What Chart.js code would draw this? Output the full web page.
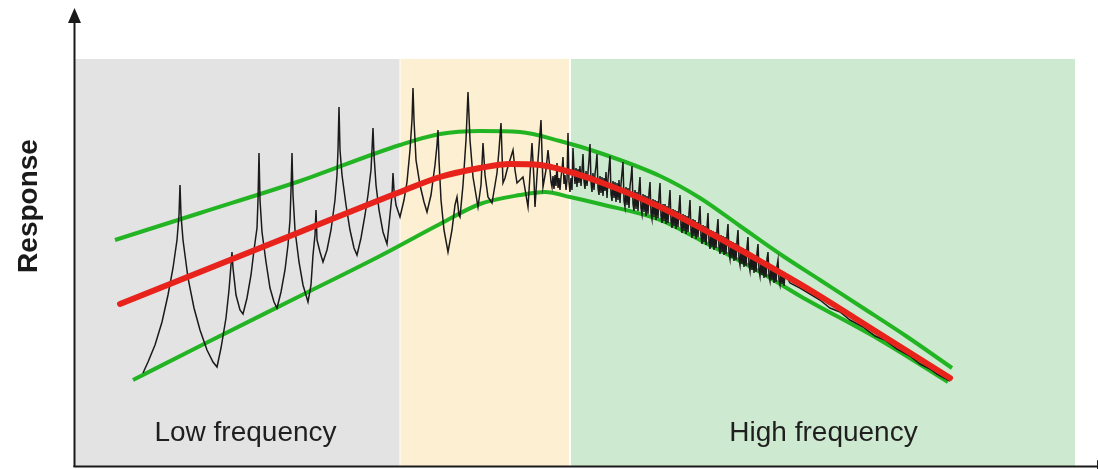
<!DOCTYPE html>
<html>
<head>
<meta charset="utf-8">
<script src="https://cdn.jsdelivr.net/npm/chart.js@4.4.1/dist/chart.umd.min.js"></script>
<style>
  html, body { margin: 0; padding: 0; background: #ffffff; }
  #c { display: block; }
</style>
</head>
<body>
<canvas id="c" width="1098" height="469"></canvas>
<script>
// ---- Data (x: frequency, arbitrary units 0..1000; y: response, arbitrary units 0..407) ----
const bandNames = ["Low frequency", "", "High frequency"];
const bandStart = [0, 325.5, 496];
const bandEnd   = [324.5, 494, 1000];

const meanCurve = [[45,162],[125,194],[225,234],[325,274],[365,289],[405,298],[435,302],[465,301],[495,294],[525,284],[585,259],[635,233],[685,205],[735,176],[805,132],[875,88]];

const upperEnvelope = [[40,226],[125,253],[225,285],[325,321],[365,332],[405,335],[445,334],[485,325],[525,313],[585,290],[625,268],[665,240],[705,212],[745,186],[785,160],[831,130],[877,98]];

const lowerEnvelope = [[58,86],[125,120],[225,170],[305,210],[365,242],[405,262],[445,271],[470,274],[495,269],[525,262],[585,246],[625,226],[685,194],[725,170],[805,126],[873,84]];

const lowBandResponse = [[68,93],[73,104],[80,121],[87,144],[93,171],[98,198],[102,226],[104,251],[105,281],[106,251],[108,226],[113,188],[119,158],[125,136],[132,116],[138,104],[142,99],[146,118],[151,148],[154,176],[156,201],[157,214],[158,198],[161,171],[165,156],[168,152],[172,168],[176,191],[179,216],[182,238],[183,266],[184,313],[185,266],[187,234],[191,204],[195,178],[199,164],[202,158],[206,174],[210,196],[213,221],[215,246],[216,276],[217,313],[218,271],[220,236],[224,204],[228,181],[233,164],[236,181],[238,211],[240,231],[241,256],[242,226],[245,214],[248,204],[252,216],[256,236],[260,266],[262,291],[263,316],[264,359],[265,316],[267,291],[271,261],[275,236],[279,218],[282,211],[286,228],[290,251],[293,271],[296,296],[297,316],[298,338],[299,311],[301,281],[304,256],[308,234],[312,222],[315,251],[317,271],[318,293],[319,276],[321,261],[325,249]];

const midBandResponse = [[329,266],[332,284],[335,316],[337,346],[338,378],[339,346],[341,306],[345,281],[349,264],[352,254],[356,271],[360,301],[362,321],[363,336],[364,306],[366,266],[369,236],[373,214],[377,236],[380,261],[382,269],[384,251],[385,249],[388,281],[391,326],[393,374],[395,326],[398,289],[401,271],[403,259],[406,281],[408,323],[410,291],[413,269],[417,263],[420,281],[422,293],[424,316],[426,343],[428,283],[430,288],[432,296],[435,306],[438,316],[440,296],[442,283],[445,286],[448,289],[451,271],[453,259],[455,291],[457,323],[459,286],[460,259],[463,306],[466,346],[468,279],[471,296],[473,316],[475,296],[476,284],[477,279],[478,290],[479,277],[480,291],[481,280],[482,303],[483,278],[484,288],[485,276],[486,289],[487,296],[488,309],[489,282],[490,291],[491,276],[492,286],[493,333],[494,284],[495,274],[496,288],[497,276]];

const highBandResponse = [[498,318],[499,296],[500,282],[501,298],[502,279],[503,297],[504,283],[505,300],[506,280],[507,296],[508,312],[509,285],[510,277],[511,295],[512,280],[513,294],[514,306],[515,322],[516,284],[517,274],[518,293],[519,276],[520,292],[521,300],[522,312],[523,278],[524,271],[525,290],[526,273],[527,289],[528,270],[529,288],[530,275],[531,294],[532,268],[533,287],[534,298],[535,310],[536,272],[537,265],[538,285],[539,268],[540,284],[541,264],[542,283],[543,266],[544,286],[545,263],[546,282],[547,293],[548,304],[549,265],[550,259],[551,279],[552,261],[553,278],[554,258],[555,280],[556,288],[557,300],[558,262],[559,255],[560,276],[561,257],[562,274],[563,255],[564,277],[565,289],[566,258],[567,252],[568,272],[569,254],[570,271],[571,250],[572,270],[573,252],[574,273],[575,284],[576,253],[577,247],[578,267],[579,249],[580,266],[581,246],[582,265],[583,248],[584,270],[585,283],[586,250],[587,243],[588,262],[589,245],[590,262],[591,242],[592,260],[593,243],[594,263],[595,276],[596,245],[597,238],[598,257],[599,240],[600,256],[601,237],[602,255],[603,239],[604,258],[605,271],[606,240],[607,233],[608,252],[609,235],[610,251],[611,232],[612,250],[613,234],[614,253],[615,266],[616,235],[617,228],[618,247],[619,230],[620,246],[621,227],[622,244],[623,229],[624,248],[625,260],[626,230],[627,222],[628,241],[629,224],[630,240],[631,221],[632,239],[633,253],[634,224],[635,217],[636,236],[637,219],[638,235],[639,216],[640,234],[641,218],[642,236],[643,247],[644,219],[645,212],[646,231],[647,214],[648,230],[649,211],[650,229],[651,212],[652,231],[653,242],[654,213],[655,207],[656,225],[657,208],[658,224],[659,205],[660,223],[661,206],[662,225],[663,236],[664,207],[665,201],[666,219],[667,202],[668,218],[669,199],[670,217],[671,200],[672,219],[673,229],[674,201],[675,195],[676,213],[677,196],[678,212],[679,193],[680,211],[681,194],[682,213],[683,222],[684,196],[685,190],[686,207],[687,191],[688,206],[689,188],[690,205],[691,189],[692,207],[693,214],[694,190],[695,185],[696,201],[697,186],[698,200],[699,183],[700,199],[701,184],[702,200],[703,206],[704,186],[705,181],[706,195],[707,182],[708,194],[709,180],[710,192],[715,183],[725,178],[735,172],[745,166],[755,158],[765,154],[775,146],[788,139],[800,130],[810,126],[822,117],[835,110],[845,102],[855,97],[862,92],[875,85]];

const measuredResponse = lowBandResponse.concat(midBandResponse, highBandResponse);

// ---- helpers ----
const toPts = arr => arr.map(p => ({ x: p[0], y: p[1] }));
const FONT = "'Liberation Sans', Arial, Helvetica, sans-serif";

const decorPlugin = {
  id: 'decor',
  beforeDatasetsDraw(chart) {
    const { ctx, chartArea, scales } = chart;
    const colors = ['#e3e3e3', '#fdefd1', '#cde9cf'];
    ctx.save();
    for (let i = 0; i < bandStart.length; i++) {
      const x0 = scales.x.getPixelForValue(bandStart[i]);
      const x1 = scales.x.getPixelForValue(bandEnd[i]);
      ctx.fillStyle = colors[i];
      ctx.fillRect(x0, chartArea.top, x1 - x0, chartArea.bottom - chartArea.top);
    }
    ctx.fillStyle = '#1f1f1f';
    ctx.font = '28px ' + FONT;
    ctx.textAlign = 'center';
    ctx.textBaseline = 'alphabetic';
    const labelX = [245.5, null, 823.5];
    for (let i = 0; i < bandNames.length; i++) {
      if (!bandNames[i]) continue;
      ctx.fillText(bandNames[i], labelX[i], 441);
    }
    ctx.restore();
  },
  afterDraw(chart) {
    const { ctx, chartArea } = chart;
    ctx.save();
    ctx.strokeStyle = '#1a1a1a';
    ctx.fillStyle = '#1a1a1a';
    ctx.lineWidth = 2;
    const ax = chartArea.left - 0.5;
    ctx.beginPath();
    ctx.moveTo(ax, chartArea.bottom + 1);
    ctx.lineTo(ax, 20);
    ctx.stroke();
    ctx.beginPath();
    ctx.moveTo(ax, 8);
    ctx.lineTo(ax - 6.5, 23);
    ctx.lineTo(ax + 6.5, 23);
    ctx.closePath();
    ctx.fill();
    const ay = chartArea.bottom + 0.5;
    ctx.beginPath();
    ctx.moveTo(ax - 1, ay);
    ctx.lineTo(1100, ay);
    ctx.stroke();
    ctx.beginPath();
    ctx.moveTo(1110, ay);
    ctx.lineTo(1097, ay - 6.5);
    ctx.lineTo(1097, ay + 6.5);
    ctx.closePath();
    ctx.fill();
    ctx.translate(37, 206);
    ctx.rotate(-Math.PI / 2);
    ctx.font = 'bold 28px ' + FONT;
    ctx.textAlign = 'center';
    ctx.textBaseline = 'alphabetic';
    ctx.fillStyle = '#1a1a1a';
    ctx.fillText('Response', 0, 0);
    ctx.restore();
  }
};

new Chart(document.getElementById('c'), {
  type: 'line',
  data: {
    datasets: [
      { label: 'Mean', data: toPts(meanCurve), borderColor: '#e8231c', borderWidth: 6, tension: 0.4, cubicInterpolationMode: 'monotone', pointRadius: 0, borderCapStyle: 'round', order: 0 },
      { label: 'Measured', data: toPts(measuredResponse), borderColor: '#1a1a1a', borderWidth: 1.5, tension: 0, pointRadius: 0, order: 1 },
      { label: 'Upper', data: toPts(upperEnvelope), borderColor: '#22b422', borderWidth: 4, tension: 0.4, cubicInterpolationMode: 'monotone', pointRadius: 0, order: 2 },
      { label: 'Lower', data: toPts(lowerEnvelope), borderColor: '#22b422', borderWidth: 4, tension: 0.4, cubicInterpolationMode: 'monotone', pointRadius: 0, order: 3 }
    ]
  },
  options: {
    responsive: false,
    animation: false,
    devicePixelRatio: 1,
    layout: { padding: { left: 75, right: 23, top: 59, bottom: 3 } },
    scales: {
      x: { type: 'linear', min: 0, max: 1000, display: false },
      y: { type: 'linear', min: 0, max: 407, display: false }
    },
    plugins: { legend: { display: false }, tooltip: { enabled: false } },
    elements: { line: { fill: false } }
  },
  plugins: [decorPlugin]
});
</script>
</body>
</html>
